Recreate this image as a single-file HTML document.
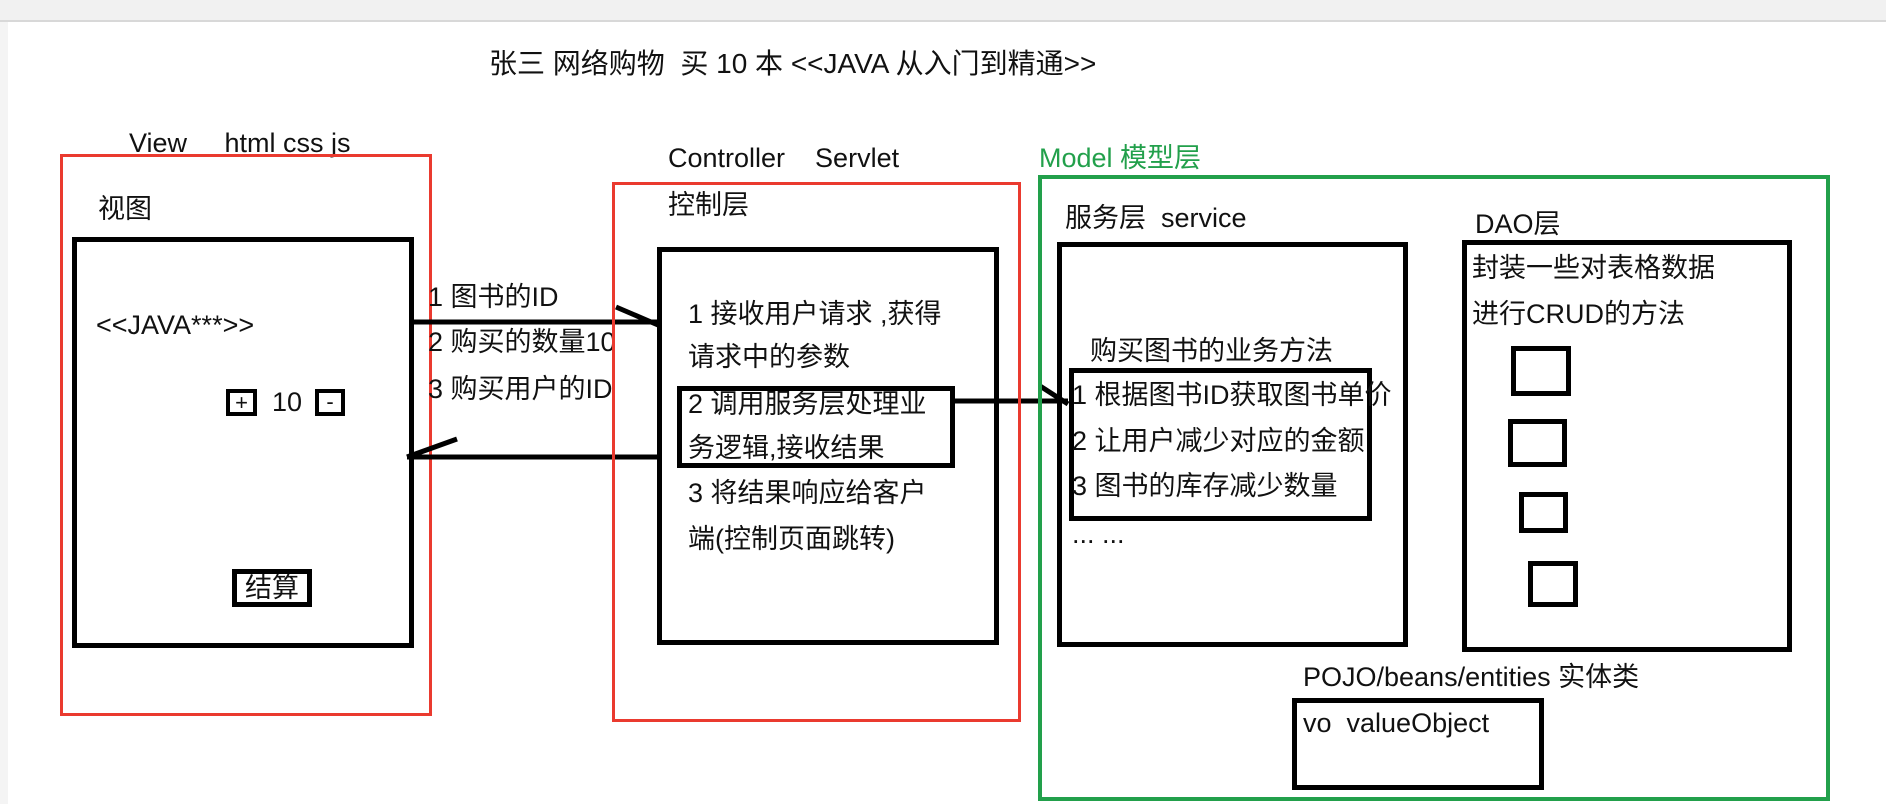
<!DOCTYPE html>
<html><head><meta charset="utf-8"><style>
body{margin:0;width:1886px;height:804px;background:#fff;position:relative;overflow:hidden;font-family:"Liberation Sans","Noto Sans CJK SC",sans-serif;color:#111}
.t{position:absolute;font-size:27px;line-height:30px;white-space:nowrap}
.b{position:absolute;border:5px solid #000;box-sizing:border-box}
.r{position:absolute;border:3px solid #ea3a2f;box-sizing:border-box}
</style></head><body>
<div style="position:absolute;left:0;top:0;width:1886px;height:20px;background:#f1f1f1;border-bottom:2px solid #d8d8d8"></div>
<div style="position:absolute;left:0;top:22px;width:8px;height:782px;background:#f4f4f4"></div>

<div class="t" style="left:489px;top:49px;font-size:28px">张三 网络购物&nbsp; 买 10 本 &lt;&lt;JAVA 从入门到精通&gt;&gt;</div>

<!-- View -->
<div class="t" style="left:129px;top:128px">View&nbsp;&nbsp;&nbsp;&nbsp; html css js</div>
<div class="r" style="left:60px;top:154px;width:372px;height:562px"></div>
<div class="t" style="left:98px;top:194px">视图</div>
<div class="b" style="left:72px;top:237px;width:342px;height:411px"></div>
<div class="t" style="left:96px;top:310px">&lt;&lt;JAVA***&gt;&gt;</div>
<div class="b" style="left:226px;top:389px;width:31px;height:27px;border-width:4px;font-size:22px;line-height:19px;text-align:center">+</div>
<div class="t" style="left:272px;top:387px">10</div>
<div class="b" style="left:315px;top:389px;width:30px;height:27px;border-width:4px;font-size:22px;line-height:17px;text-align:center">-</div>
<div class="b" style="left:232px;top:569px;width:80px;height:38px;font-size:27px;line-height:28px;text-align:center">结算</div>

<!-- labels between -->
<div style="position:absolute;left:416px;top:270px;width:197px;height:140px;overflow:hidden">
<div class="t" style="left:12px;top:12px">1 图书的ID</div>
<div class="t" style="left:12px;top:57px">2 购买的数量10</div>
<div class="t" style="left:12px;top:104px">3 购买用户的ID</div>
</div>

<svg style="position:absolute;left:0;top:0" width="1886" height="804">
<g stroke="#000" stroke-width="5" fill="none">
<line x1="413" y1="322" x2="658" y2="322"/>
<line x1="616" y1="307" x2="658" y2="325"/>
<line x1="407" y1="457" x2="658" y2="457"/>
<line x1="457" y1="439" x2="407" y2="457"/>
<line x1="954" y1="401" x2="1068" y2="401"/>
<line x1="1040" y1="386" x2="1068" y2="404"/>
</g>
</svg>

<!-- Controller -->
<div class="t" style="left:668px;top:143px">Controller&nbsp;&nbsp;&nbsp; Servlet</div>
<div class="r" style="left:612px;top:182px;width:409px;height:540px"></div>
<div class="t" style="left:668px;top:190px">控制层</div>
<div class="b" style="left:657px;top:247px;width:342px;height:398px"></div>
<div class="t" style="left:688px;top:299px">1 接收用户请求 ,获得</div>
<div class="t" style="left:688px;top:342px">请求中的参数</div>
<div class="b" style="left:677px;top:386px;width:278px;height:82px"></div>
<div class="t" style="left:688px;top:389px">2 调用服务层处理业</div>
<div class="t" style="left:688px;top:433px">务逻辑,接收结果</div>
<div class="t" style="left:688px;top:478px">3 将结果响应给客户</div>
<div class="t" style="left:688px;top:524px">端(控制页面跳转)</div>

<!-- Model -->
<div class="t" style="left:1039px;top:143px;color:#22a04b">Model 模型层</div>
<div style="position:absolute;left:1038px;top:175px;width:792px;height:626px;border:4px solid #22a04b;box-sizing:border-box"></div>
<div class="t" style="left:1065px;top:203px">服务层&nbsp; service</div>
<div class="b" style="left:1057px;top:242px;width:351px;height:405px"></div>
<div class="t" style="left:1090px;top:336px">购买图书的业务方法</div>
<div class="b" style="left:1069px;top:368px;width:303px;height:153px"></div>
<div class="t" style="left:1072px;top:380px">1 根据图书ID获取图书单价</div>
<div class="t" style="left:1072px;top:426px">2 让用户减少对应的金额</div>
<div class="t" style="left:1072px;top:471px">3 图书的库存减少数量</div>
<div class="t" style="left:1072px;top:519px">... ...</div>

<div class="t" style="left:1475px;top:209px">DAO层</div>
<div class="b" style="left:1462px;top:240px;width:330px;height:412px"></div>
<div class="t" style="left:1472px;top:253px">封装一些对表格数据</div>
<div class="t" style="left:1472px;top:299px">进行CRUD的方法</div>
<div class="b" style="left:1511px;top:346px;width:60px;height:50px"></div>
<div class="b" style="left:1508px;top:419px;width:59px;height:48px"></div>
<div class="b" style="left:1519px;top:492px;width:49px;height:41px"></div>
<div class="b" style="left:1528px;top:561px;width:50px;height:46px"></div>

<div class="t" style="left:1303px;top:662px">POJO/beans/entities 实体类</div>
<div class="b" style="left:1292px;top:698px;width:252px;height:92px"></div>
<div class="t" style="left:1303px;top:708px">vo&nbsp; valueObject</div>
</body></html>
